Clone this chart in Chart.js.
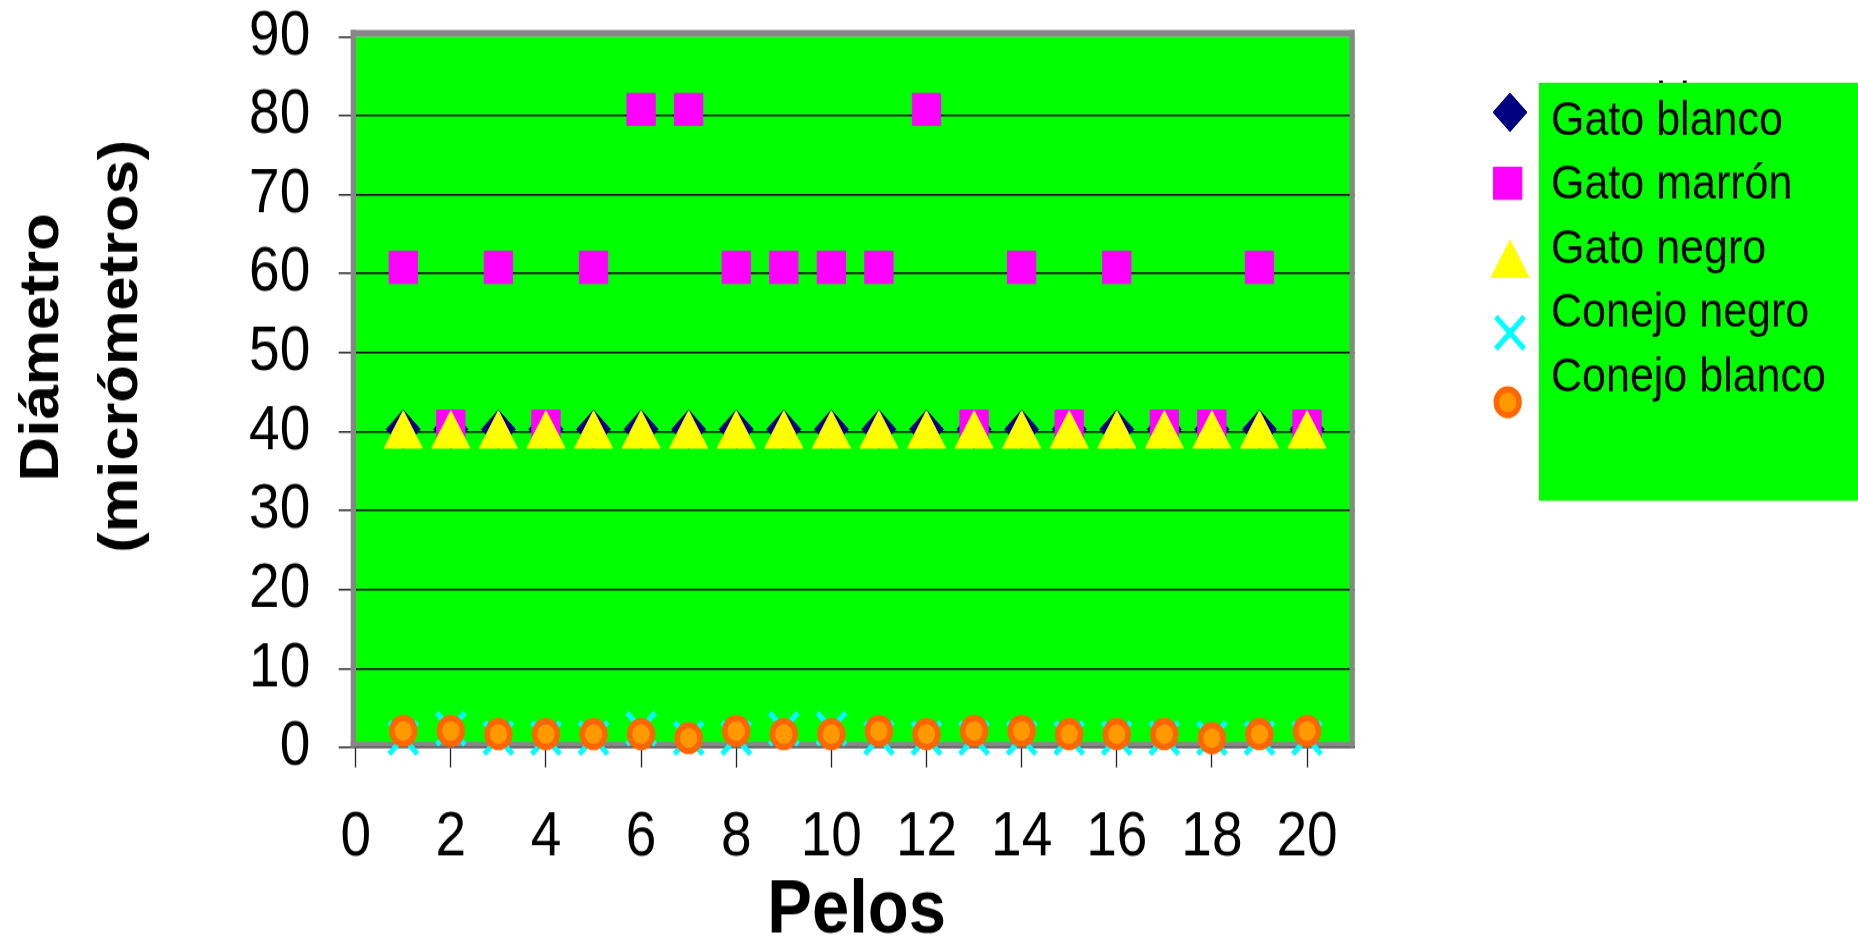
<!DOCTYPE html>
<html lang="es">
<head>
<meta charset="utf-8">
<title>Diámetro de pelos</title>
<script src="https://cdn.jsdelivr.net/npm/chart.js@4/dist/chart.umd.min.js"></script>
<style>
  html, body { margin: 0; padding: 0; width: 1858px; height: 937px; background: #ffffff; overflow: hidden; }
  /* the chart is drawn on an 826px tall canvas and shown stretched to 937px */
  #wrap { width: 1858px; height: 826px; transform-origin: 0 0; transform: scaleY(1.13438); }
  canvas { display: block; }
</style>
</head>
<body>
<div id="wrap"><canvas id="c" width="1858" height="826"></canvas></div>
<script>
// ---- data ----
const pelos = [1, 2, 3, 4, 5, 6, 7, 8, 9, 10, 11, 12, 13, 14, 15, 16, 17, 18, 19, 20];
const gatoBlanco = [40.3, 40.3, 40.3, 40.3, 40.3, 40.3, 40.3, 40.3, 40.3, 40.3,
                    40.3, 40.3, 40.3, 40.3, 40.3, 40.3, 40.3, 40.3, 40.3, 40.3];
const gatoMarron = [60.8, 40.7, 60.8, 40.7, 60.8, 80.8, 80.8, 60.8, 60.8, 60.8,
                    60.8, 80.8, 40.7, 60.8, 40.7, 60.8, 40.7, 40.7, 60.8, 40.7];
const gatoNegro = [39.5, 39.5, 39.5, 39.5, 39.5, 39.5, 39.5, 39.5, 39.5, 39.5,
                   39.5, 39.5, 39.5, 39.5, 39.5, 39.5, 39.5, 39.5, 39.5, 39.5];
const conejoNegro = [1.2, 2.4, 1.2, 1.2, 1.2, 2.4, 1.2, 1.2, 2.4, 2.4,
                     1.2, 1.2, 1.2, 1.2, 1.2, 1.2, 1.2, 1.2, 1.2, 1.2];
const conejoBlanco = [2.1, 2.1, 1.7, 1.7, 1.7, 1.7, 1.2, 2.1, 1.7, 1.7,
                      2.1, 1.7, 2.1, 2.1, 1.7, 1.7, 1.7, 1.2, 1.7, 2.1];
const seriesNames = ['Gato blanco', 'Gato marrón', 'Gato negro', 'Conejo negro', 'Conejo blanco'];
const xTicks = [0, 2, 4, 6, 8, 10, 12, 14, 16, 18, 20];
const yTicks = [0, 10, 20, 30, 40, 50, 60, 70, 80, 90];
const xTitle = 'Pelos';
const yTitle = ['Diámetro', '(micrómetros)'];

const FONT = "'Liberation Sans', Arial, Helvetica, sans-serif";

function pts(ys) { return pelos.map((x, i) => ({ x: x, y: ys[i] })); }

function series(label, ys, style, radius, fill, border, bw, order) {
  return {
    label: label, data: pts(ys), order: order, clip: false, showLine: false,
    pointStyle: style, pointRadius: radius, pointHoverRadius: radius,
    pointBackgroundColor: fill, pointBorderColor: border, pointBorderWidth: bw,
    backgroundColor: fill, borderColor: border, borderWidth: bw
  };
}

const datasets = [
  series(seriesNames[0], gatoBlanco, 'rectRot', 17, '#000080', '#000080', 1, 5),
  series(seriesNames[1], gatoMarron, 'rect', 20, '#ff00ff', '#ff00ff', 1, 4),
  series(seriesNames[2], gatoNegro, 'triangle', 22, '#ffff00', '#ffff00', 1, 3),
  series(seriesNames[3], conejoNegro, 'crossRot', 20, '#00ffff', '#00ffff', 5, 2),
  series(seriesNames[4], conejoBlanco, 'circle', 11.4, '#ff9900', '#ff6600', 5.5, 1)
];

// green plot area with a grey frame
const plotFrame = {
  id: 'plotFrame',
  beforeDraw(chart) {
    const ctx = chart.ctx, xs = chart.scales.x, ys = chart.scales.y;
    const L = xs.getPixelForValue(0), R = xs.getPixelForValue(21);
    const T = ys.getPixelForValue(90), B = ys.getPixelForValue(0);
    ctx.save();
    ctx.fillStyle = '#ffffff';
    ctx.fillRect(0, 0, chart.width, chart.height);
    ctx.fillStyle = '#00ff00';
    ctx.fillRect(L, T, R - L, B - T);
    ctx.restore();
  },
  beforeDatasetsDraw(chart) {
    const ctx = chart.ctx, xs = chart.scales.x, ys = chart.scales.y;
    const L = xs.getPixelForValue(0), R = xs.getPixelForValue(21);
    const T = ys.getPixelForValue(90), B = ys.getPixelForValue(0);
    ctx.save();
    ctx.fillStyle = '#878787';
    ctx.fillRect(L - 5, T - 5.9, R - L + 5, 5.9);          // top
    ctx.fillRect(L - 5, B - 4.9, R - L + 5, 4.4);          // bottom
    ctx.fillRect(L - 5, T - 5.9, 5.3, B - T + 5.4);        // left
    ctx.fillRect(R - 5, T - 5.9, 5, B - T + 5.4);          // right
    ctx.restore();
  }
};

function drawMarker(ctx, ds, x, y) {
  ctx.save();
  ctx.fillStyle = ds.pointStyle === 'crossRot' ? 'rgba(0,0,0,0)' : ds.pointBackgroundColor;
  ctx.strokeStyle = ds.pointBorderColor;
  ctx.lineWidth = ds.pointBorderWidth;
  Chart.helpers.drawPoint(ctx, {
    pointStyle: ds.pointStyle, radius: ds.pointRadius, rotation: 0, borderWidth: ds.pointBorderWidth
  }, x, y);
  ctx.restore();
}

// rotated text, its visible extent fitted to a length and centred on (baseX, cy)
function verticalText(ctx, text, font, baseX, cy, length) {
  ctx.save();
  ctx.font = font;
  ctx.textAlign = 'left';
  ctx.textBaseline = 'alphabetic';
  const m = ctx.measureText(text);
  const vis = m.actualBoundingBoxLeft + m.actualBoundingBoxRight;
  ctx.translate(baseX, cy);
  ctx.rotate(-Math.PI / 2);
  ctx.scale(length / vis, 1);
  ctx.fillStyle = '#000000';
  ctx.fillText(text, -(m.actualBoundingBoxRight - m.actualBoundingBoxLeft) / 2, 0);
  ctx.restore();
}

// horizontal text whose visible extent is centred on cx
function centredText(ctx, text, font, cx, baseY) {
  ctx.save();
  ctx.font = font;
  ctx.textAlign = 'left';
  ctx.textBaseline = 'alphabetic';
  ctx.fillStyle = '#000000';
  const m = ctx.measureText(text);
  ctx.fillText(text, cx - (m.actualBoundingBoxRight - m.actualBoundingBoxLeft) / 2, baseY);
  ctx.restore();
}

const titlesAndLegend = {
  id: 'titlesAndLegend',
  afterDraw(chart) {
    const ctx = chart.ctx;
    // axis titles
    verticalText(ctx, yTitle[0], 'bold 55px ' + FONT, 58.3, 305.4, 232);
    verticalText(ctx, yTitle[1], 'bold 55px ' + FONT, 136.5, 305.4, 360);
    centredText(ctx, xTitle, 'bold 67px ' + FONT, 857.5, 822);

    // legend
    ctx.save();
    ctx.font = '43px ' + FONT;
    ctx.textAlign = 'left';
    ctx.textBaseline = 'alphabetic';
    ctx.fillStyle = '#000000';
    ctx.fillText(seriesNames[0], 1551, 101.9);
    ctx.fillStyle = '#00ff00';
    ctx.fillRect(1539, 72.9, 1858 - 1539, 441.4 - 72.9);
    const mk = [[1510, 99.0], [1507.7, 161.6], [1510, 233.6], [1510, 293.3], [1507.7, 354.6]];
    const base = [119.0, 174.8, 231.8, 288.0, 345.3];
    chart.data.datasets.forEach((ds, i) => {
      drawMarker(ctx, ds, mk[i][0], mk[i][1]);
      ctx.fillStyle = '#000000';
      ctx.fillText(ds.label, 1551, base[i]);
    });
    ctx.restore();
  }
};

new Chart(document.getElementById('c'), {
  type: 'scatter',
  data: { datasets: datasets },
  plugins: [plotFrame, titlesAndLegend],
  options: {
    responsive: false,
    animation: false,
    devicePixelRatio: 1,
    events: [],
    layout: { padding: { left: 0, top: 32.35, right: 503.4, bottom: 0 } },
    plugins: { legend: { display: false }, tooltip: { enabled: false }, title: { display: false } },
    scales: {
      x: {
        type: 'linear', position: 'bottom', min: 0, max: 21,
        afterBuildTicks(s) { s.ticks = xTicks.map(v => ({ value: v })); },
        afterFit(s) { s.height = 167; },
        ticks: { color: '#000000', font: { family: FONT, size: 55 }, padding: 29.4, maxRotation: 0, autoSkip: false },
        grid: { drawOnChartArea: false, drawTicks: true, tickLength: 17.6, tickColor: '#222222', tickWidth: 1.3 },
        border: { display: true, color: '#222222', width: 1.5 }
      },
      y: {
        type: 'linear', position: 'left', min: 0, max: 90,
        afterBuildTicks(s) { s.ticks = yTicks.map(v => ({ value: v })); },
        afterFit(s) { s.width = 355.7; s.paddingTop = 0; s.paddingBottom = 0; },
        ticks: { color: '#000000', font: { family: FONT, size: 55 }, padding: 28.4, autoSkip: false },
        grid: {
          drawOnChartArea: true, drawTicks: true, tickLength: 17, tickWidth: 1.3, lineWidth: 1.6,
          color: (c) => (c.tick && (c.tick.value === 0 || c.tick.value === 90)) ? 'rgba(0,0,0,0)' : '#000000',
          tickColor: '#000000'
        },
        border: { display: false }
      }
    }
  }
});
</script>
</body>
</html>
